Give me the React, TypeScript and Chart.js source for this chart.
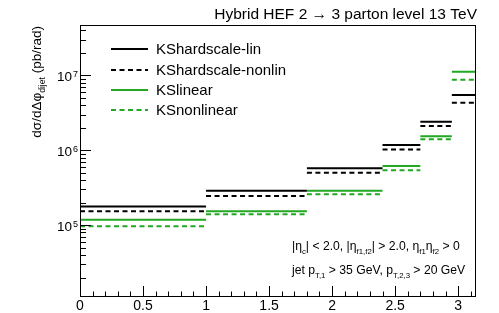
import React, { useEffect, useRef } from "react";
import { Chart, registerables } from "chart.js";
Chart.register(...registerables);

// Bin edges in delta phi (rad)
const binEdges = [0, 1, 1.8, 2.4, 2.7, 2.95, Math.PI];
// dsigma/dDeltaphi (pb/rad) per bin
const ksHardscaleLin = [1.77e5, 2.89e5, 5.75e5, 1.18e6, 2.41e6, 5.46e6];
const ksHardscaleNonlin = [1.54e5, 2.46e5, 5.03e5, 1.02e6, 2.11e6, 4.31e6];
const ksLinear = [1.18e5, 1.54e5, 2.89e5, 6.18e5, 1.54e6, 1.12e7];
const ksNonlinear = [0.97e5, 1.4e5, 2.59e5, 5.41e5, 1.4e6, 8.74e6];
const seriesLabels = ["KShardscale-lin", "KShardscale-nonlin", "KSlinear", "KSnonlinear"];
const xTickLabels = ["0", "0.5", "1", "1.5", "2", "2.5", "3"];
const yDecades = [4, 5, 6, 7];

const FONT = "'Liberation Sans', Arial, Helvetica, sans-serif";
const GREEN = "#22a822";

function stepData(vals: number[]) {
  const pts: { x: number; y: number | null }[] = [];
  vals.forEach((v, i) => {
    pts.push({ x: binEdges[i], y: v });
    pts.push({ x: binEdges[i + 1], y: v });
    if (i < vals.length - 1) pts.push({ x: binEdges[i + 1], y: null });
  });
  return pts;
}

type Seg = { t: string; sub?: boolean; sup?: boolean };
const SUBF = 0.64;

function drawRich(ctx: CanvasRenderingContext2D, segs: Seg[], x: number, y: number, size: number) {
  let cx = x;
  for (const s of segs) {
    const fs = s.sub || s.sup ? size * SUBF : size;
    ctx.font = `${fs}px ${FONT}`;
    const dy = s.sub ? size * 0.33 : s.sup ? -size * 0.42 : 0;
    ctx.fillText(s.t, cx, y + dy);
    cx += ctx.measureText(s.t).width;
  }
  return cx - x;
}

function measureRich(ctx: CanvasRenderingContext2D, segs: Seg[], size: number) {
  let w = 0;
  for (const s of segs) {
    const fs = s.sub || s.sup ? size * SUBF : size;
    ctx.font = `${fs}px ${FONT}`;
    w += ctx.measureText(s.t).width;
  }
  return w;
}

const decorPlugin = {
  id: "rootDecor",
  afterDraw(chart: any) {
    const ctx: CanvasRenderingContext2D = chart.ctx;
    const { left, right, top, bottom } = chart.chartArea;
    const xs = chart.scales.x;
    const ys = chart.scales.y;
    ctx.save();
    ctx.fillStyle = "#000";
    ctx.strokeStyle = "#000";
    ctx.lineWidth = 1;
    // frame
    ctx.strokeRect(Math.round(left) + 0.5, Math.round(top) + 0.5, Math.round(right - left) - 1, Math.round(bottom - top) - 1);

    // x ticks
    ctx.beginPath();
    for (let k = 0; k <= 31; k++) {
      const v = k / 10;
      if (v > xs.max) break;
      const px = Math.round(xs.getPixelForValue(v)) + 0.5;
      const len = k % 5 === 0 ? 11 : 5.5;
      ctx.moveTo(px, bottom);
      ctx.lineTo(px, bottom - len);
    }
    ctx.stroke();
    ctx.font = `14px ${FONT}`;
    ctx.textAlign = "center";
    ctx.textBaseline = "alphabetic";
    for (const lab of xTickLabels) {
      const px = xs.getPixelForValue(parseFloat(lab));
      ctx.fillText(lab, px, 310);
    }

    // y ticks
    ctx.beginPath();
    for (const d of yDecades) {
      for (let m = 1; m <= 9; m++) {
        const v = m * Math.pow(10, d);
        if (v < ys.min || v > ys.max) continue;
        const py = Math.round(ys.getPixelForValue(v)) + 0.5;
        const len = m === 1 ? 11 : 6;
        ctx.moveTo(left, py);
        ctx.lineTo(left + len, py);
      }
    }
    ctx.stroke();
    ctx.textAlign = "left";
    for (const d of yDecades) {
      const v = Math.pow(10, d);
      if (v < ys.min || v > ys.max) continue;
      const py = ys.getPixelForValue(v);
      ctx.font = `9px ${FONT}`;
      const ew = ctx.measureText(String(d)).width;
      ctx.font = `13.5px ${FONT}`;
      const bw = ctx.measureText("10").width;
      const xr = left - 2;
      ctx.fillText("10", xr - ew - bw - 1, py + 6);
      ctx.font = `9px ${FONT}`;
      ctx.fillText(String(d), xr - ew, py + 1.5);
    }

    // title
    ctx.font = `15.5px ${FONT}`;
    ctx.textAlign = "right";
    ctx.fillText("Hybrid HEF 2 \u2192 3 parton level 13 TeV", right + 1, 19);
    ctx.textAlign = "left";

    // y-axis title (rotated)
    const ySegs: Seg[] = [{ t: "d\u03c3/d\u0394\u03c6" }, { t: "dijet", sub: true }, { t: " (pb/rad)" }];
    const ysz = 13.5;
    const yw = measureRich(ctx, ySegs, ysz);
    ctx.save();
    ctx.translate(41, 26 + yw);
    ctx.rotate(-Math.PI / 2);
    drawRich(ctx, ySegs, 0, 0, ysz);
    ctx.restore();

    // legend
    const rows = [49, 70, 90, 110];
    chart.data.datasets.forEach((ds: any, i: number) => {
      const y = rows[i];
      ctx.save();
      ctx.strokeStyle = ds.borderColor;
      ctx.lineWidth = 2;
      ctx.setLineDash(ds.borderDash || []);
      ctx.beginPath();
      ctx.moveTo(111, y);
      ctx.lineTo(148, y);
      ctx.stroke();
      ctx.restore();
      ctx.font = `15px ${FONT}`;
      ctx.textBaseline = "middle";
      ctx.fillText(ds.label, 156, y + 0.5);
      ctx.textBaseline = "alphabetic";
    });

    // annotation
    const asz = 12.2;
    const line1: Seg[] = [
      { t: "|\u03b7" }, { t: "c", sub: true }, { t: "| < 2.0, |\u03b7" }, { t: "f1,f2", sub: true },
      { t: "| > 2.0, \u03b7" }, { t: "f1", sub: true }, { t: "\u03b7" }, { t: "f2", sub: true }, { t: " > 0" },
    ];
    const line2: Seg[] = [
      { t: "jet p" }, { t: "T,1", sub: true }, { t: " > 35 GeV, p" }, { t: "T,2,3", sub: true }, { t: " > 20 GeV" },
    ];
    drawRich(ctx, line1, 292, 250, asz);
    drawRich(ctx, line2, 292, 274, asz);

    ctx.restore();
  },
};

export default function App() {
  const ref = useRef<HTMLCanvasElement | null>(null);
  useEffect(() => {
    if (!ref.current) return;
    const mk = (label: string, vals: number[], color: string, dashed: boolean) => ({
      label,
      data: stepData(vals),
      borderColor: color,
      backgroundColor: color,
      borderWidth: 2,
      borderDash: dashed ? [5, 3.5] : [],
      pointRadius: 0,
      spanGaps: false,
      fill: false,
      tension: 0,
    });
    const chart = new Chart(ref.current, {
      type: "line",
      data: {
        datasets: [
          mk(seriesLabels[0], ksHardscaleLin, "#000000", false),
          mk(seriesLabels[1], ksHardscaleNonlin, "#000000", true),
          mk(seriesLabels[2], ksLinear, GREEN, false),
          mk(seriesLabels[3], ksNonlinear, GREEN, true),
        ] as any,
      },
      options: {
        animation: false,
        responsive: false,
        devicePixelRatio: 1,
        layout: { padding: { left: 80, right: 23, top: 25, bottom: 16 } },
        plugins: { legend: { display: false }, tooltip: { enabled: false }, title: { display: false } },
        scales: {
          x: { type: "linear", min: 0, max: Math.PI, display: false },
          y: { type: "logarithmic", min: 1.1e4, max: 4.7e7, display: false },
        },
      },
      plugins: [decorPlugin],
    } as any);
    return () => chart.destroy();
  }, []);
  return (
    <div style={{ position: "fixed", left: 0, top: 0, width: 499, height: 313, background: "#fff" }}>
      <canvas ref={ref} width={499} height={313} style={{ width: 499, height: 313 }} />
    </div>
  );
}
